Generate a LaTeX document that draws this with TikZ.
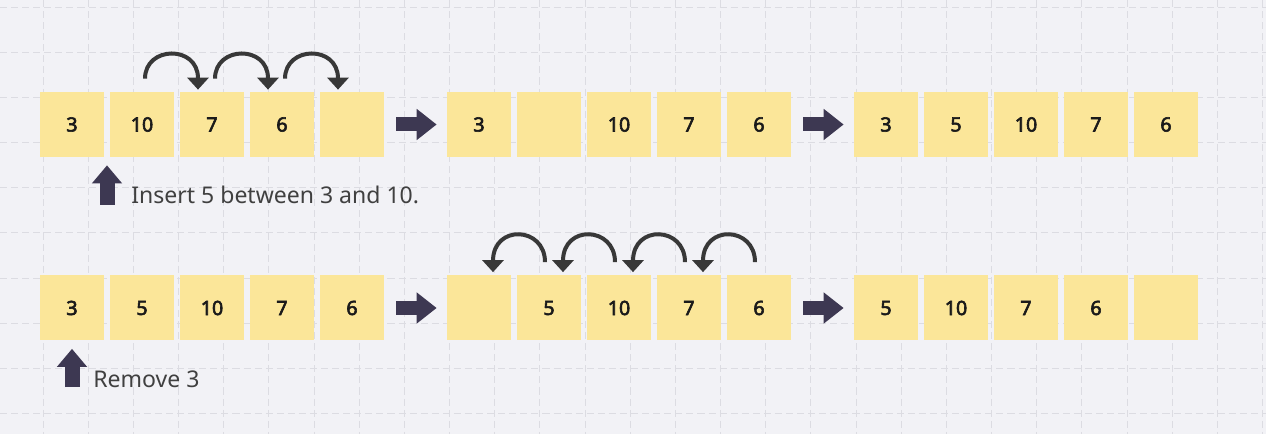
\documentclass[tikz,border=0pt]{standalone}
\usepackage{fontspec}
\setmainfont{Noto Sans}
\newfontfamily\numfont{Noto Sans}[FakeBold=3]
\usepackage{tikz}
\usetikzlibrary{calc,arrows.meta}
\definecolor{bg}{HTML}{F2F2F6}
\definecolor{gridc}{HTML}{DCDCE2}
\definecolor{cellfill}{HTML}{FBE699}
\definecolor{num}{HTML}{1A1A1A}
\definecolor{ink}{HTML}{383838}
\definecolor{fat}{HTML}{3D3852}
\definecolor{note}{HTML}{404040}
\tikzset{
  gridline/.style={draw=gridc, line width=0.5pt, dash pattern=on 4pt off 2.3pt},
  cell/.style={fill=cellfill, minimum width=12.8mm, minimum height=13mm, inner sep=0pt,
    text=num, font=\numfont\fontsize{11.2}{13}\selectfont},
  hop/.style={draw=ink, line width=0.8mm, -{Triangle[length=2.4mm,width=4.2mm]}},
  fatarrow/.style={draw=fat, line width=2.8mm, -{Triangle[length=4mm,width=6mm]}},
  uparrow/.style={draw=fat, line width=3mm, -{Triangle[length=3.6mm,width=5.8mm]}},
  note/.style={text=note, anchor=base west, inner sep=0pt, font=\fontsize{13.1}{16}\selectfont}
}
\begin{document}
\begin{tikzpicture}[x=0.2mm,y=-0.2mm]
  \fill[bg] (0,0) rectangle (1266,434);
  \useasboundingbox (0,0) rectangle (1266,434);

  % background grid
  \foreach \i in {1,...,28} \draw[gridline] ({-2.17+45.17*\i},0) -- ++(0,434);
  \foreach \j in {0,...,9} \draw[gridline] (0,{7+45.17*\j}) -- ++(1266,0);

  % insert row
  \foreach \v [count=\k] in {3,10,7,6,{}} \node[cell] (a\k) at ({2+70*\k},124.5) {\v};
  \foreach \v [count=\k] in {3,{},10,7,6} \node[cell] (b\k) at ({409+70*\k},124.5) {\v};
  \foreach \v [count=\k] in {3,5,10,7,6} \node[cell] (c\k) at ({816+70*\k},124.5) {\v};

  % remove row
  \foreach \v [count=\k] in {3,5,10,7,6} \node[cell] (d\k) at ({2+70*\k},308) {\v};
  \foreach \v [count=\k] in {{},5,10,7,6} \node[cell] (e\k) at ({409+70*\k},308) {\v};
  \foreach \v [count=\k] in {5,10,7,6,{}} \node[cell] (f\k) at ({816+70*\k},308) {\v};

  % steps
  \foreach \p/\q in {a5/b1,b5/c1,d5/e1,e5/f1}
    \draw[fatarrow] ($(\p.east)+(12,0)$) -- ($(\q.west)+(-10,0)$);

  % shift right / shift left
  \foreach \p/\q in {a2/a3,a3/a4,a4/a5}
    \draw[hop] ($(\p.north)+(3,-13)$) .. controls +(0,-33) and +(0,-45) .. ($(\q.north)+(-14,-2)$);
  \foreach \p/\q in {e2/e1,e3/e2,e4/e3,e5/e4}
    \draw[hop] ($(\p.north)+(-4,-13)$) .. controls +(0,-36) and +(0,-48) .. ($(\q.north)+(14,-3)$);

  % notes
  \coordinate (insB) at (107,205);
  \draw[uparrow] (insB) -- ($(a1.south east)!.5!(a2.south west)+(0,8)$);
  \node[note] (ins) at (131,204) {Insert 5 between 3 and 10.};
  \coordinate (remB) at (72,387);
  \draw[uparrow] (remB) -- ($(d1.south)+(0,8)$);
  \node[note] (rem) at (93,387) {Remove 3};
\end{tikzpicture}
\end{document}
